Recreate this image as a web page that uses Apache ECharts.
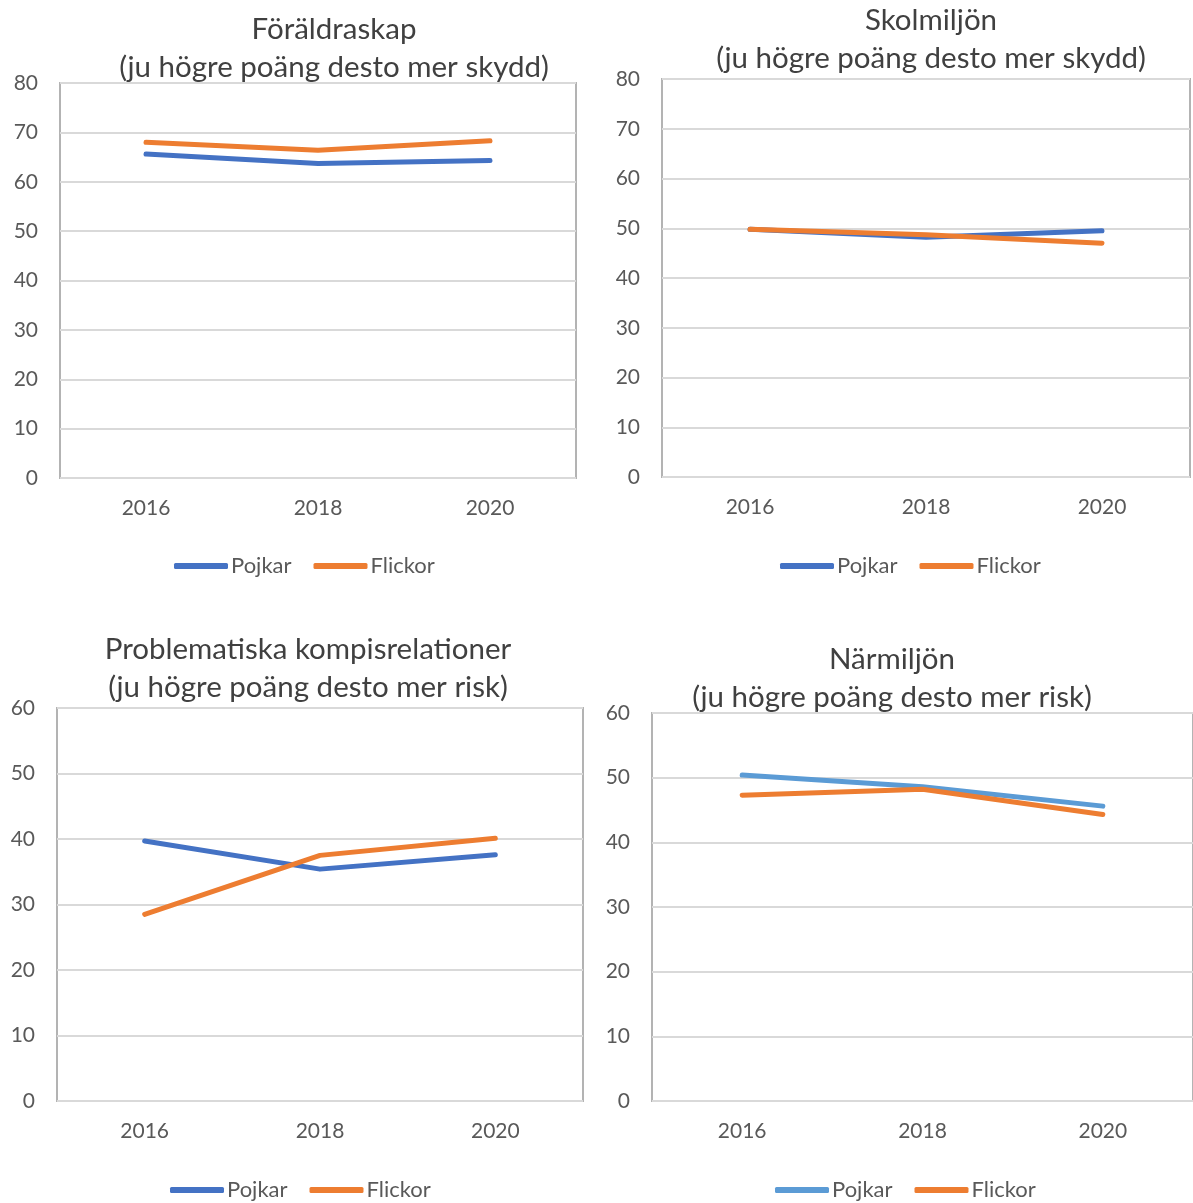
<!DOCTYPE html>
<html>
<head>
<meta charset="utf-8">
<script src="https://cdn.jsdelivr.net/npm/echarts@6/dist/echarts.min.js"></script>
<style>
  html, body { margin: 0; padding: 0; background: #fff; }
  #chart { width: 1193px; height: 1203px; }
</style>
</head>
<body>
<div id="chart"></div>
<script>
// Survey scores by year, boys (Pojkar) and girls (Flickor)
const years = ['2016', '2018', '2020'];
const seriesNames = ['Pojkar', 'Flickor'];

const foraldraskapPojkar = [65.6, 63.7, 64.3];
const foraldraskapFlickor = [68.0, 66.4, 68.3];

const skolmiljonPojkar = [49.8, 48.2, 49.5];
const skolmiljonFlickor = [49.8, 48.7, 47.0];

const kompisPojkar = [39.7, 35.4, 37.6];
const kompisFlickor = [28.5, 37.5, 40.1];

const narmiljonPojkar = [50.4, 48.6, 45.6];
const narmiljonFlickor = [47.3, 48.2, 44.3];

const panelTitles = [
  'Föräldraskap\n(ju högre poäng desto mer skydd)',
  'Skolmiljön\n(ju högre poäng desto mer skydd)',
  'Problematiska kompisrelationer\n(ju högre poäng desto mer risk)',
  'Närmiljön\n(ju högre poäng desto mer risk)'
];
const panelMax = [80, 80, 60, 60];

const FONT = 'Lato, "Open Sans", sans-serif';
const TEXT = '#595959';
const ORANGE = '#ED7D31';
const BLUE = '#4472C4';
const LIGHT_BLUE = '#5B9BD5';

// Layout of the four panels
const panels = [
  { grid: { left: 60, top: 83, width: 516, height: 395 }, titleX: 334, titleY: 10, legendX: 174, legendY: 555,
    data: [foraldraskapPojkar, foraldraskapFlickor], colors: [BLUE, ORANGE] },
  { grid: { left: 662, top: 79, width: 528, height: 398 }, titleX: 931, titleY: 1, legendX: 780, legendY: 555,
    data: [skolmiljonPojkar, skolmiljonFlickor], colors: [BLUE, ORANGE] },
  { grid: { left: 57, top: 708, width: 526, height: 393 }, titleX: 308, titleY: 630, legendX: 170, legendY: 1179,
    data: [kompisPojkar, kompisFlickor], colors: [BLUE, ORANGE] },
  { grid: { left: 652, top: 713, width: 550, height: 388 }, titleX: 892, titleY: 640, legendX: 775, legendY: 1179,
    data: [narmiljonPojkar, narmiljonFlickor], colors: [LIGHT_BLUE, ORANGE] }
];

const option = {
  backgroundColor: '#fff',
  animation: false,
  title: [], grid: [], xAxis: [], yAxis: [], legend: [], series: []
};

panels.forEach((p, i) => {
  option.title.push({
    text: panelTitles[i],
    left: p.titleX, top: p.titleY, textAlign: 'center', padding: 0,
    textStyle: { fontFamily: FONT, fontSize: 29.5, fontWeight: 'normal', color: '#404040', lineHeight: 38 }
  });
  option.grid.push(Object.assign({ show: true, borderColor: '#b3b3b3', borderWidth: 2, backgroundColor: '#fff' }, p.grid));
  option.xAxis.push({
    type: 'category', gridIndex: i, data: years, boundaryGap: true,
    axisLine: { show: false }, axisTick: { show: false },
    axisLabel: { fontFamily: FONT, fontSize: 21, color: TEXT, margin: 20 }
  });
  option.yAxis.push({
    type: 'value', gridIndex: i, min: 0, max: panelMax[i], interval: 10,
    axisLine: { show: false }, axisTick: { show: false },
    axisLabel: { fontFamily: FONT, fontSize: 21, color: TEXT, margin: 22 },
    splitLine: { lineStyle: { color: '#d9d9d9', width: 2 } }
  });
  const ids = seriesNames.map(n => n + '_' + i);
  option.legend.push({
    left: p.legendX, top: p.legendY, padding: 0,
    data: ids.map((id, k) => ({ name: id, icon: 'roundRect', itemStyle: { color: p.colors[k] } })),
    formatter: name => name.split('_')[0],
    itemWidth: 54, itemHeight: 6, itemGap: 22,
    textStyle: { fontFamily: FONT, fontSize: 22, color: TEXT, padding: [0, 0, 0, -2] },
    selectedMode: false
  });
  seriesNames.forEach((n, k) => {
    option.series.push({
      name: ids[k], type: 'line', xAxisIndex: i, yAxisIndex: i,
      data: p.data[k], symbol: 'none',
      lineStyle: { color: p.colors[k], width: 5, cap: 'round', join: 'round' },
      itemStyle: { color: p.colors[k] }
    });
  });
});

const chart = echarts.init(document.getElementById('chart'));
chart.setOption(option);
</script>
</body>
</html>
